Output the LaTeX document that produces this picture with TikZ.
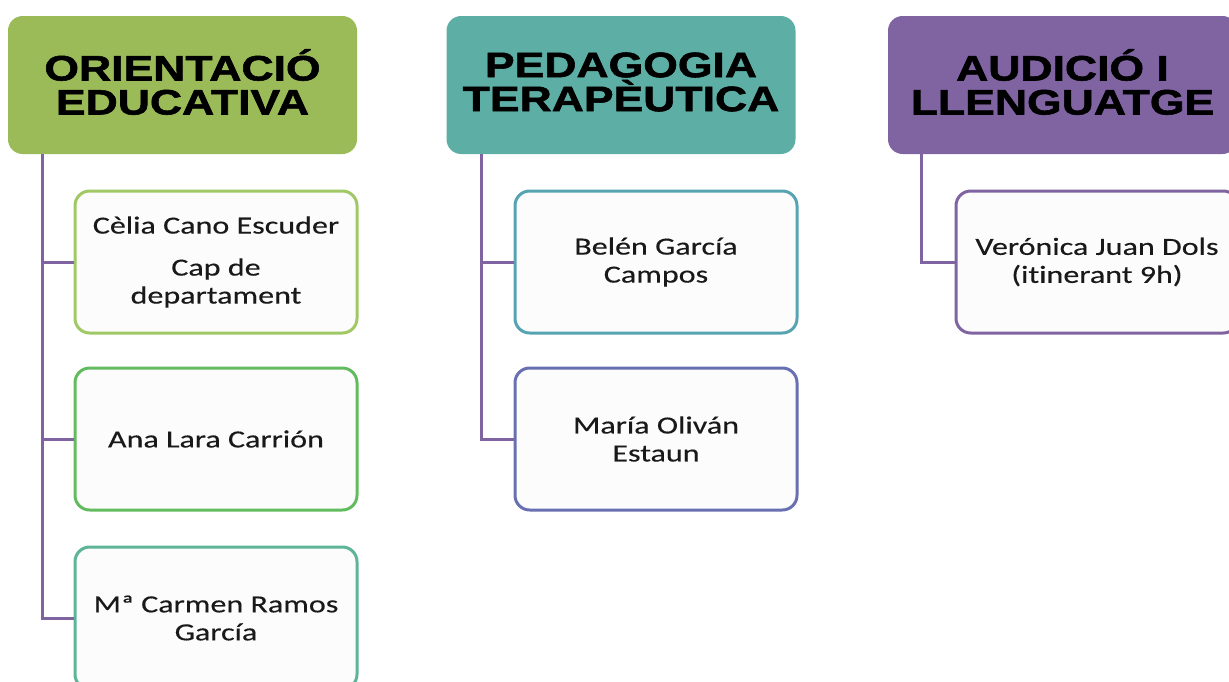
\documentclass[tikz,border=0pt]{standalone}
\usepackage{fontspec}
\newfontfamily\headfont[FakeStretch=1.26,BoldFeatures={FakeBold=1.6,FakeStretch=1.26}]{Liberation Sans}
\newfontfamily\bodyfont[FakeStretch=1.3,Ligatures={NoCommon},FakeBold=0.3]{Carlito}
\definecolor{hgreen}{RGB}{155,187,89}
\definecolor{hteal}{RGB}{93,175,166}
\definecolor{hpurple}{RGB}{128,100,162}
\definecolor{bgreenA}{RGB}{160,200,100}
\definecolor{bgreenB}{RGB}{98,187,94}
\definecolor{bteal}{RGB}{93,180,150}
\definecolor{bblue}{RGB}{86,164,178}
\definecolor{bindigo}{RGB}{104,112,178}
\definecolor{bpurple}{RGB}{128,100,162}
\definecolor{linecol}{RGB}{128,100,162}
\definecolor{txt}{RGB}{25,25,25}
\tikzset{
  header/.style={rectangle, rounded corners=11pt, draw=none, fill=#1,
    minimum width=261.75pt, minimum height=103.5pt, align=center,
    font=\headfont\bfseries\fontsize{26.5pt}{25.5pt}\selectfont, text=black, inner sep=0pt},
  person/.style={rectangle, rounded corners=11pt, draw=#1, line width=2.25pt,
    fill=white!99!black, minimum width=211.5pt, minimum height=106.5pt,
    align=center, font=\bodyfont\fontsize{18.5pt}{21pt}\selectfont, text=txt, inner sep=0pt},
  conn/.style={draw=linecol, line width=2.25pt}
}
\begin{document}
\begin{tikzpicture}[x=0.75pt,y=-0.75pt]
\clip (0,0) rectangle (1229,682);
\useasboundingbox (0,0) rectangle (1229,682);
% headers
\node[header=hgreen] (h1) at (182.5,85) {};
\node[header=hteal] (h2) at (621,85) {};
\node[header=hpurple] (h3) at (1062.5,85) {};
\node[header=none, fill=none] (t1) at (182.5,82) {ORIENTACIÓ\\EDUCATIVA};
\node[header=none, fill=none] (t2) at (621,82) {PEDAGOGIA\\TERAPÈUTICA};
\node[header=none, fill=none] (t3) at (1062.5,82) {AUDICIÓ I\\LLENGUATGE};
% children
\node[person=bgreenA] (a1) at (216,262) {Cèlia Cano Escuder\\[10.5pt]Cap de\\departament};
\node[person=bgreenB] (a2) at (216,439) {Ana Lara Carrión};
\node[person=bteal] (a3) at (216,618) {Mª Carmen Ramos\\García};
\node[person=bblue] (b1) at (656,262) {Belén García\\Campos};
\node[person=bindigo] (b2) at (656,439) {María Oliván\\Estaun};
\node[person=bpurple] (c1) at (1097,262) {Verónica Juan Dols\\(itinerant 9h)};
% connector roots
\coordinate (r1) at (42,154);
\coordinate (r2) at (481,154);
\coordinate (r3) at (921,154);
\draw[conn] (r1) |- (a3.west);
\draw[conn] (r1) |- (a1.west);
\draw[conn] (r1) |- (a2.west);
\draw[conn] (r2) |- (b2.west);
\draw[conn] (r2) |- (b1.west);
\draw[conn] (r3) |- (c1.west);
\end{tikzpicture}
\end{document}
